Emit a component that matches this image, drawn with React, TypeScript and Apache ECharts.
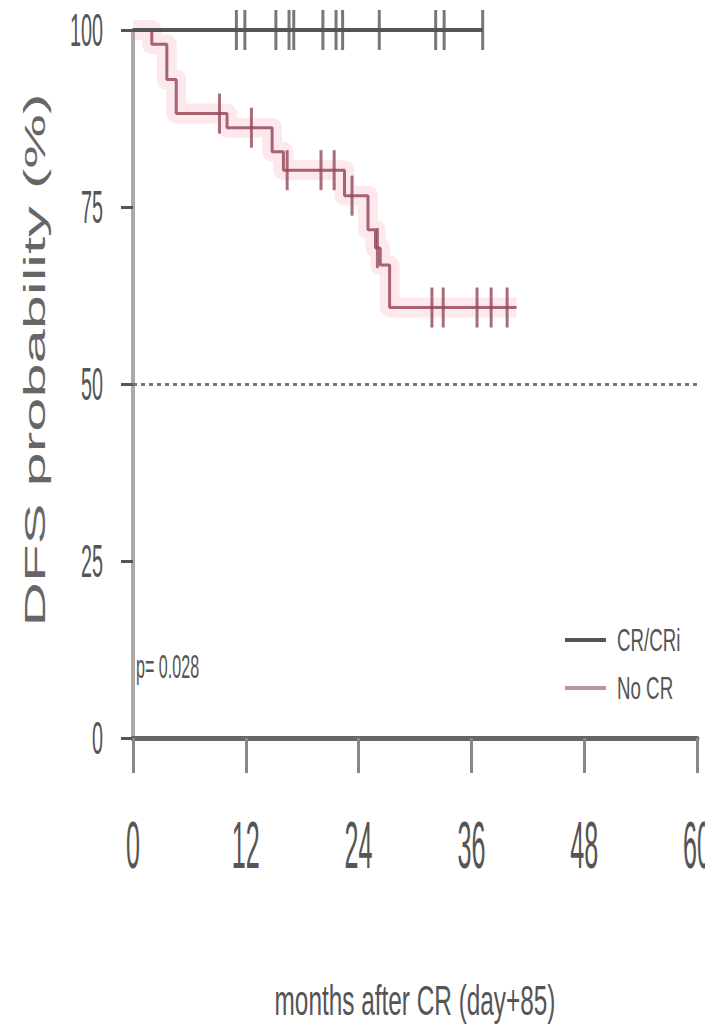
import React, { useEffect, useRef } from "react";
import * as echarts from "echarts";

// ---- data ----
const xTicks = [0, 12, 24, 36, 48, 60];
const yTicks = [0, 25, 50, 75, 100];
const seriesNames = ["CR/CRi", "No CR"];

const crTimes = [0, 37.2];
const crSurv = [100, 100];
const crCensor = [11.0, 11.9, 15.2, 16.6, 17.1, 20.2, 21.6, 22.3, 26.2, 32.2, 33.1, 37.2];

const noCrTimes = [0, 2.0, 3.6, 4.6, 10.0, 14.8, 16.0, 22.5, 25.0, 25.8, 26.3, 27.3, 40.8];
const noCrSurv = [100, 98.0, 93.0, 88.2, 86.2, 82.8, 80.2, 76.6, 71.8, 69.2, 66.8, 60.8, 60.8];
const noCrCensor = [9.2, 12.6, 16.4, 20.0, 21.4, 23.3, 26.0, 31.8, 33.0, 36.6, 38.1, 39.8];

const refLine = 50;
const pText = "p= 0.028";
const xName = "months after CR (day+85)";
const yName = "DFS probability (%)";

const FONT = "Liberation Sans";

function pairs(t: number[], s: number[]) {
  return t.map((v, i) => [v, s[i]]);
}
function survAt(t: number[], s: number[], x: number) {
  let v = s[0];
  for (let i = 0; i < t.length; i++) if (t[i] <= x) v = s[i];
  return v;
}

function txt(
  text: string,
  x: number,
  y: number,
  fontSize: number,
  sx: number,
  sy: number,
  align: string,
  color: string,
  rotation = 0
) {
  return {
    type: "text",
    x,
    y,
    scaleX: sx,
    scaleY: sy,
    rotation,
    silent: true,
    z: 100,
    style: {
      text,
      fontSize,
      fontFamily: FONT,
      fill: color,
      align,
      verticalAlign: "middle",
      textAlign: align,
      textVerticalAlign: "middle",
    },
  };
}

export default function App() {
  const ref = useRef<HTMLDivElement>(null);

  useEffect(() => {
    if (!ref.current) return;
    const chart = echarts.init(ref.current, undefined, { renderer: "svg" });
    chart.setOption({
      animation: false,
      backgroundColor: "#ffffff",
      grid: { left: 133, right: 8, top: 30, bottom: 286, containLabel: false },
      xAxis: {
        type: "value",
        min: 0,
        max: 60,
        interval: 12,
        axisLine: { show: true, lineStyle: { color: "#666", width: 5 } },
        axisTick: { show: true, length: 35, lineStyle: { color: "#888", width: 3 } },
        axisLabel: { show: false },
        splitLine: { show: false },
      },
      yAxis: {
        type: "value",
        min: 0,
        max: 100,
        interval: 25,
        axisLine: { show: true, lineStyle: { color: "#aaa", width: 4 } },
        axisTick: { show: true, length: 12, lineStyle: { color: "#555", width: 3 } },
        axisLabel: { show: false },
        splitLine: { show: false },
      },
      series: [
        {
          name: seriesNames[1] + " band",
          type: "line",
          step: "end",
          data: pairs(noCrTimes, noCrSurv),
          symbol: "none",
          silent: true,
          lineStyle: { color: "rgba(240,120,145,0.16)", width: 20, join: "round" },
          z: 1,
        },
        {
          name: seriesNames[1],
          type: "line",
          step: "end",
          data: pairs(noCrTimes, noCrSurv),
          symbol: "none",
          lineStyle: { color: "#a8626f", width: 3 },
          z: 2,
        },
        {
          name: seriesNames[1] + " censor",
          type: "scatter",
          data: noCrCensor.map((t) => [t, survAt(noCrTimes, noCrSurv, t)]),
          symbol: "rect",
          symbolSize: [3, 40],
          itemStyle: { color: "#8e4a57", opacity: 0.8 },
          z: 3,
        },
        {
          name: seriesNames[0],
          type: "line",
          step: "end",
          data: pairs(crTimes, crSurv),
          symbol: "none",
          lineStyle: { color: "#555", width: 4 },
          z: 4,
          markLine: {
            silent: true,
            symbol: "none",
            label: { show: false },
            lineStyle: { type: [4, 4], color: "#777", width: 3 },
            data: [{ yAxis: refLine }],
          },
        },
        {
          name: seriesNames[0] + " censor",
          type: "scatter",
          data: crCensor.map((t) => [t, survAt(crTimes, crSurv, t)]),
          symbol: "rect",
          symbolSize: [3, 40],
          itemStyle: { color: "#555", opacity: 0.8 },
          z: 5,
        },
      ],
    });

    const px = (v: number) => chart.convertToPixel({ xAxisIndex: 0 }, v) as number;
    const py = (v: number) => chart.convertToPixel({ yAxisIndex: 0 }, v) as number;

    const elements: any[] = [];
    xTicks.forEach((v) => elements.push(txt(String(v), px(v), 845, 42, 0.6, 1.6, "center", "#555")));
    yTicks.forEach((v) => elements.push(txt(String(v), 103, py(v), 44, 0.45, 1.05, "right", "#555")));
    elements.push(txt(yName, 34, 360, 30, 2.05, 1.0, "center", "#666", Math.PI / 2));
    elements.push(txt(xName, (px(0) + px(60)) / 2, 1000, 42, 0.58, 1.0, "center", "#555"));
    elements.push(txt(pText, 136, 667, 26, 0.62, 1.3, "left", "#555"));
    // legend
    elements.push({
      type: "line",
      silent: true,
      shape: { x1: 565, y1: 640, x2: 606, y2: 640 },
      style: { stroke: "#555", lineWidth: 4 },
    });
    elements.push({
      type: "line",
      silent: true,
      shape: { x1: 565, y1: 688, x2: 606, y2: 688 },
      style: { stroke: "#b8959c", lineWidth: 4 },
    });
    elements.push(txt(seriesNames[0], 617, 640, 26, 0.72, 1.2, "left", "#555"));
    elements.push(txt(seriesNames[1], 617, 688, 26, 0.72, 1.2, "left", "#555"));

    chart.setOption({ graphic: { elements } });

    return () => chart.dispose();
  }, []);

  return (
    <div
      ref={ref}
      style={{ position: "fixed", left: 0, top: 0, width: 705, height: 1024, background: "#fff" }}
    />
  );
}
